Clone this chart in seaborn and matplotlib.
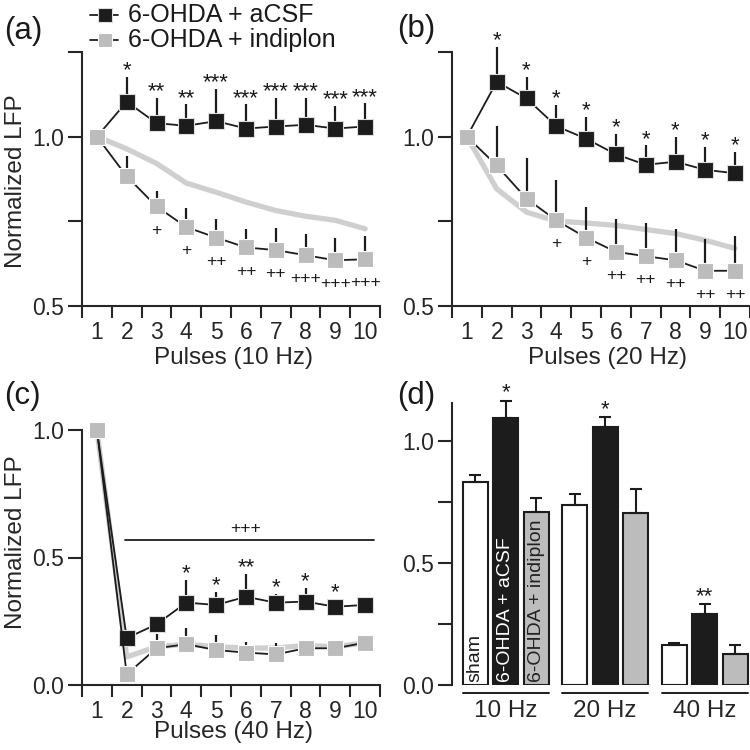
import numpy as np
import pandas as pd
import matplotlib
matplotlib.use("Agg")
import matplotlib.pyplot as plt
from matplotlib.lines import Line2D
import matplotlib.transforms as mtransforms
import seaborn as sns

# ---------------- data ----------------
pulses = np.arange(1, 11)

a_acsf = [1.0, 1.103, 1.040, 1.032, 1.046, 1.024, 1.030, 1.035, 1.024, 1.030]
a_acsf_sem = [0, 0.073, 0.074, 0.063, 0.096, 0.071, 0.084, 0.079, 0.066, 0.068]
a_indi = [1.0, 0.883, 0.794, 0.733, 0.702, 0.673, 0.665, 0.650, 0.635, 0.638]
a_indi_sem = [0, 0.061, 0.047, 0.055, 0.054, 0.053, 0.064, 0.064, 0.067, 0.068]
a_sham = [1.0, 0.964, 0.921, 0.863, 0.836, 0.807, 0.782, 0.765, 0.753, 0.728]
a_star = ['', '*', '**', '**', '***', '***', '***', '***', '***', '***']
a_plus = ['', '', '+', '+', '++', '++', '++', '+++', '+++', '+++']

b_acsf = [1.0, 1.162, 1.113, 1.031, 0.994, 0.948, 0.917, 0.926, 0.902, 0.892]
b_acsf_sem = [0, 0.104, 0.063, 0.063, 0.065, 0.060, 0.057, 0.072, 0.067, 0.062]
b_indi = [1.0, 0.915, 0.817, 0.753, 0.702, 0.660, 0.647, 0.635, 0.604, 0.604]
b_indi_sem = [0, 0.116, 0.120, 0.118, 0.090, 0.098, 0.098, 0.093, 0.095, 0.104]
b_sham = [1.0, 0.846, 0.777, 0.751, 0.745, 0.738, 0.726, 0.714, 0.694, 0.670]
b_star = ['', '*', '*', '*', '*', '*', '*', '*', '*', '*']
b_plus = ['', '', '', '+', '+', '++', '++', '++', '++', '++']

c_acsf = [1.0, 0.184, 0.238, 0.323, 0.314, 0.346, 0.323, 0.327, 0.307, 0.314]
c_acsf_sem = [0, 0.02, 0.02, 0.089, 0.049, 0.089, 0.034, 0.052, 0.03, 0.02]
c_indi = [1.0, 0.042, 0.144, 0.160, 0.137, 0.127, 0.120, 0.144, 0.144, 0.166]
c_indi_sem = [0, 0.02, 0.056, 0.062, 0.059, 0.043, 0.046, 0.02, 0.02, 0.02]
c_sham = [1.0, 0.11, 0.15, 0.16, 0.15, 0.145, 0.145, 0.155, 0.15, 0.165]
c_star = ['', '', '', '*', '*', '**', '*', '*', '*', '']
c_overall = '+++'
c_overall_y = 0.57

freqs = ['10 Hz', '20 Hz', '40 Hz']
groups = ['sham', '6-OHDA + aCSF', '6-OHDA + indiplon']
bar_sham = [0.830, 0.737, 0.164]
bar_sham_sem = [0.030, 0.045, 0.009]
bar_acsf = [1.092, 1.055, 0.291]
bar_acsf_sem = [0.072, 0.042, 0.039]
bar_indi = [0.709, 0.705, 0.127]
bar_indi_sem = [0.055, 0.097, 0.037]
bar_star = ['*', '*', '**']

legend_labels = ['6-OHDA + aCSF', '6-OHDA + indiplon']

# ---------------- style ----------------
sns.set_style('ticks')
plt.rcParams['font.family'] = ['Liberation Sans', 'DejaVu Sans']
plt.rcParams['axes.linewidth'] = 1.5
plt.rcParams['text.color'] = '#1a1a1a'

BLACK = '#1c1c1c'
GRAY = '#bcbcbc'
LGRAY = '#cfcfcf'
TICKFS = 16.5
LABFS = 17.5
PLUSFS = 12.5

W = 750.0
fig = plt.figure(figsize=(7.5, 7.5), dpi=100)
axA = fig.add_axes([82 / W, 1 - 306 / W, 298 / W, 254 / W])
axB = fig.add_axes([452 / W, 1 - 306 / W, 298 / W, 254 / W])
axC = fig.add_axes([82 / W, 1 - 685 / W, 298 / W, 255 / W])
axD = fig.add_axes([452 / W, 1 - 685 / W, 298 / W, 281.7 / W])


def line_panel(ax, acsf, acsf_sem, indi, indi_sem, sham, stars, plus, ylim, yticks, ylabels, xlabel, ylabel=True):
    sns.lineplot(x=pulses, y=sham, ax=ax, color=LGRAY, lw=3.8, zorder=1,
                 legend=False, clip_on=False)
    ax.vlines(pulses, acsf, np.array(acsf) + np.array(acsf_sem), color=BLACK,
              lw=1.6, zorder=2, clip_on=False)
    sns.lineplot(x=pulses, y=acsf, ax=ax, color=BLACK, lw=1.3, marker='s',
                 markersize=11, markerfacecolor=BLACK, markeredgecolor='#dddddd',
                 markeredgewidth=0.8, zorder=3, legend=False, clip_on=False)
    ax.vlines(pulses, indi, np.array(indi) + np.array(indi_sem), color=BLACK,
              lw=1.6, zorder=4, clip_on=False)
    sns.lineplot(x=pulses, y=indi, ax=ax, color=BLACK, lw=1.3, marker='s',
                 markersize=11, markerfacecolor=GRAY, markeredgecolor='white',
                 markeredgewidth=0.8, zorder=5, legend=False, clip_on=False)
    for x, m, s, t in zip(pulses, acsf, acsf_sem, stars):
        if t:
            ax.annotate(t, (x, m + s), xytext=(0, 4.5), textcoords='offset points',
                        ha='center', va='center', fontsize=16, annotation_clip=False)
    if plus is not None:
        for x, m, t in zip(pulses, indi, plus):
            if t:
                ax.annotate(t, (x, m), xytext=(0, -17), textcoords='offset points',
                            ha='center', va='center', fontsize=PLUSFS,
                            annotation_clip=False)
    ax.set_xlim(0.5, 10.5)
    ax.set_ylim(*ylim)
    ax.set_yticks(yticks)
    ax.set_yticklabels(ylabels)
    ax.set_xticks(pulses)
    ax.set_xticklabels([str(p) for p in pulses])
    ax.set_xticks(np.arange(0.5, 11, 1), minor=True)
    ax.tick_params(axis='x', which='major', length=0, pad=10.5, labelsize=TICKFS)
    ax.tick_params(axis='x', which='minor', length=8.6, width=1.5, direction='out')
    ax.tick_params(axis='y', length=9.8, width=1.5, pad=3, labelsize=TICKFS,
                   direction='out')
    sns.despine(ax=ax)
    ax.set_xlabel(xlabel, fontsize=LABFS)
    ax.set_ylabel('Normalized LFP' if ylabel else '', fontsize=LABFS)


line_panel(axA, a_acsf, a_acsf_sem, a_indi, a_indi_sem, a_sham, a_star, a_plus,
           (0.5, 1.25), [0.5, 0.75, 1.0, 1.25], ['0.5', '', '1.0', ''],
           'Pulses (10 Hz)')
line_panel(axB, b_acsf, b_acsf_sem, b_indi, b_indi_sem, b_sham, b_star, b_plus,
           (0.5, 1.25), [0.5, 0.75, 1.0, 1.25], ['0.5', '', '1.0', ''],
           'Pulses (20 Hz)', ylabel=False)
line_panel(axC, c_acsf, c_acsf_sem, c_indi, c_indi_sem, c_sham, c_star, None,
           (0.0, 1.0), [0.0, 0.5, 1.0], ['0.0', '0.5', '1.0'],
           'Pulses (40 Hz)')

axA.yaxis.set_label_coords(-0.183, 0.49)
axA.xaxis.set_label_coords(0.507, -0.16)
axB.xaxis.set_label_coords(0.523, -0.16)
axC.yaxis.set_label_coords(-0.183, 0.56)
axC.xaxis.set_label_coords(0.507, -0.143)

# overall significance line in (c)
axC.plot([1.95, 10.3], [c_overall_y, c_overall_y], color=BLACK, lw=1.3, clip_on=False)
axC.annotate(c_overall, (6, c_overall_y), xytext=(0, 8), textcoords='offset points',
             ha='center', va='center', fontsize=PLUSFS)

# ---------------- bar panel (d) ----------------
df = pd.DataFrame({
    'freq': np.repeat(freqs, 3),
    'group': groups * 3,
    'val': [v for trio in zip(bar_sham, bar_acsf, bar_indi) for v in trio],
})
sns.barplot(data=df, x='freq', y='val', hue='group', hue_order=groups,
            order=freqs, palette=['white', BLACK, GRAY], width=0.915, gap=0.18,
            edgecolor=BLACK, linewidth=1.5, errorbar=None, legend=False,
            saturation=1, ax=axD)
sems = [bar_sham_sem, bar_acsf_sem, bar_indi_sem]
vals = [bar_sham, bar_acsf, bar_indi]
for cont, sem, val in zip(axD.containers, sems, vals):
    xs = [p.get_x() + p.get_width() / 2 for p in cont.patches]
    eb = axD.errorbar(xs, val, yerr=[np.zeros(3), sem], fmt='none', ecolor=BLACK,
                      elinewidth=1.5, capsize=4.4, capthick=1.5, zorder=1)
    for art in eb.lines[1] + eb.lines[2]:
        art.set_clip_on(False)
# stars above aCSF bars
acsf_cont = axD.containers[1]
for p, v, s, t in zip(acsf_cont.patches, bar_acsf, bar_acsf_sem, bar_star):
    axD.annotate(t, (p.get_x() + p.get_width() / 2, v + s), xytext=(0, 5.5),
                 textcoords='offset points', ha='center', va='center', fontsize=16,
                 annotation_clip=False)
# in-bar labels for the first group
txt_colors = [BLACK, 'white', '#222222']
for cont, g, c in zip(axD.containers, groups, txt_colors):
    p = cont.patches[0]
    axD.text(p.get_x() + p.get_width() / 2, 0.012, g, rotation=90, ha='center',
             va='bottom', fontsize=14, color=c)
# group underlines
trans = mtransforms.blended_transform_factory(axD.transData, axD.transAxes)
for i in range(3):
    left = axD.containers[0].patches[i]
    right = axD.containers[2].patches[i]
    x0 = left.get_x()
    x1 = right.get_x() + right.get_width()
    axD.plot([x0, x1], [-0.028, -0.028], transform=trans, color=BLACK, lw=1.4,
             clip_on=False)

axD.set_xlim(-0.54, 2.455)
axD.set_ylim(0, 1.153)
axD.set_yticks([0, 0.25, 0.5, 0.75, 1.0])
axD.set_yticklabels(['0.0', '', '0.5', '', '1.0'])
axD.tick_params(axis='y', length=9.8, width=1.5, pad=3, labelsize=TICKFS)
axD.tick_params(axis='x', length=0, pad=11, labelsize=LABFS)
axD.set_xlabel('')
axD.set_ylabel('')
sns.despine(ax=axD, bottom=True)

# ---------------- panel labels ----------------
for lab, x, y in [('(a)', 4, 31), ('(b)', 397, 29), ('(c)', 4, 396), ('(d)', 397, 396)]:
    fig.text(x / W, 1 - y / W, lab, fontsize=22.5, ha='left', va='center')

# ---------------- legend ----------------
for row, (lab, face, edge) in enumerate(zip(legend_labels, [BLACK, GRAY],
                                            ['#dddddd', 'white'])):
    yy = 1 - (15 + 25 * row) / W
    fig.add_artist(Line2D([90 / W, 105 / W, 118 / W], [yy, yy, yy],
                          transform=fig.transFigure, color=BLACK, lw=1.3,
                          marker='s', markevery=[1], markersize=10,
                          markerfacecolor=face, markeredgecolor=edge,
                          markeredgewidth=0.8))
    fig.text(128 / W, yy, lab, fontsize=18, ha='left', va='center')

fig.savefig('out.png', dpi=100)
